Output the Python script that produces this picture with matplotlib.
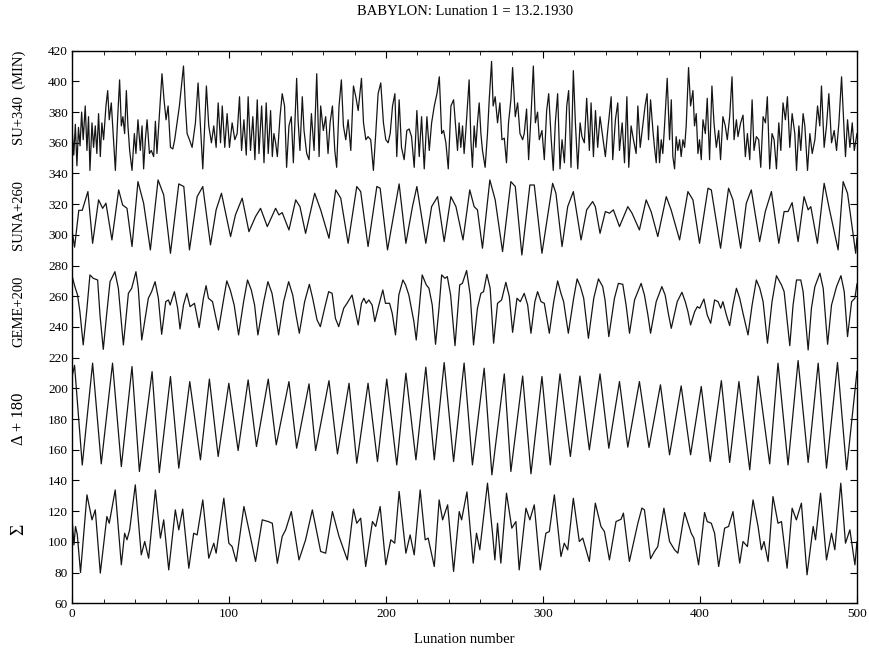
import matplotlib
matplotlib.use("Agg")
import matplotlib.pyplot as plt
from matplotlib.ticker import MultipleLocator
import matplotlib.transforms as mtransforms

plt.rcParams['font.family'] = ['Liberation Serif', 'DejaVu Serif']

# SU + 340 (minutes), noisy top trace
su_lun = [0, 1, 2, 3, 4, 5, 6, 7,
          8.3, 9.4, 10.4, 11.3, 12.6, 13.6, 14.7, 15.7, 16.8, 17.9, 18.9, 20, 21.5, 22.6, 23.6, 24.9, 26.4, 27.5,
          28.9, 30.2, 31.3, 32.3, 33.4, 34.5, 35.5, 36.6, 38.1, 39.6, 40.6, 41.9, 43.4, 44.5, 45.5, 46.6, 47.7,
          49.2, 50.4, 51.9, 53, 54, 55.5, 57.2, 58.5, 59.8, 61.1, 62.6, 64.1, 65.3, 66.8, 68.3, 69.6, 70.9, 72.1,
          73.2, 74.7, 76.4, 78.5, 80.2, 81.7, 83.2, 84.5, 85.5, 87, 88.7, 90.2, 91.7, 93, 94.5, 95.6, 97.2, 98.7,
          100.2, 101.9, 103.6, 105.1, 106.6, 107.9, 109.4, 110.9, 112.1, 113.6, 115.1, 116.4, 117.9, 119, 120.7,
          122.2, 123.6, 124.9,
          126.4, 127.5, 128.5, 129.6, 130.7, 132.4, 133.8, 135.3, 136.6, 138.1, 139.6, 140.9, 143, 143.9, 145.1,
          146.6, 147.7, 149.4, 150.9, 152.4, 154.1, 155.8, 157.3, 158.3, 160, 161.5, 163, 164.3, 165.8, 167.3,
          168.5, 170, 171.5, 172.8, 174.3, 175.8, 177.5, 179.2, 180.7, 182.2, 184.3, 185.6, 187.1, 188.5, 190.2,
          191.9, 193.4, 194.9, 196.6, 198.3, 199.8, 201.3, 202.6, 204.1, 205.6, 206.8, 208.3, 209.8, 211.5, 213.2,
          214.7, 216.2, 217.9, 219.6, 221.1, 222.6, 224.3, 226, 227.5, 229, 230.7, 232.4, 233.9, 235.4, 236.6,
          238.1, 239.6, 241.3, 243,
          245.5, 246.5, 247.6, 248.7, 249.7, 250.8, 251.8, 252.9, 254, 255, 256.1, 257.2, 258.2, 259.3, 260.4,
          261.4, 263.1, 264.6, 265.7, 267.2, 268.2, 269.5, 271, 272.5, 273.8, 275.3, 276.7, 278, 279.5, 280.6,
          282.3, 283.8, 285.3, 287, 288, 289.5, 290.8, 292.3, 293.8, 295.1, 296.5, 297.6, 299.3, 300.8, 302.3,
          303.6, 305.1, 306.5, 307.8, 309.3, 310.8, 312.1, 313.6, 315.1, 316.3, 317.8, 319.3, 320.6, 322.1, 323.6,
          324.8, 326.3, 327.8, 329.5, 330.6, 332.1, 333.4, 334.8, 336.3, 338, 339.7, 341.2, 343.4, 344.4, 346.1,
          347.6, 348.7, 350.4, 351.9, 353.4, 354.6, 356.1, 357.6, 359.3, 360.4, 361.9,
          365, 366.3, 367.2, 368.5, 370, 371, 372.1, 373.1, 374.2, 375.3, 376.3, 377.4, 379.1, 380.6, 381.7,
          382.7, 383.8, 384.8, 385.9, 387, 388, 389.1, 390.2, 391.2, 392.7, 394, 395.5, 396.5, 397.6, 398.7,
          399.7, 400.8, 401.9, 403.4, 404.6, 406.1, 407.6, 408.9, 410.4, 411.9, 413.1, 414.6, 416.1, 417.4,
          418.9, 420.4, 421.7, 423.2, 424.2, 425.9, 427.4, 428.9, 430.2, 431.7, 433.2, 434.4, 435.9, 437.4,
          438.7, 440.2, 441.7, 442.9, 444.4, 445.9, 447.2, 448.7, 450.2, 451.5, 452.9, 454.4, 455.7, 457.2,
          458.7, 460.4, 461.5, 463, 464.2, 465.7, 466.8, 468.5, 470, 471.5, 473.2, 474.9, 476.3, 477.4, 479.1,
          480.6, 482.1, 483.8, 485.5, 487, 488.5, 490.2, 491.9, 492.7, 494, 495.5, 497, 498.3, 500]
su_val = [368, 352, 372, 345, 370, 358, 380, 362,
          384, 355, 377, 342, 373, 357, 371, 353, 379, 351, 373, 362, 384, 394, 375, 386, 360, 342,
          375, 401, 371, 377, 366, 394, 371, 355, 342, 366, 353, 375, 355, 371, 343, 362, 375,
          353, 355, 351, 374, 353, 377, 405, 388, 375, 384, 357, 356, 362, 373, 384, 397, 410, 384,
          366, 362, 357, 373, 399, 371, 343, 373, 397, 371, 360, 371, 357, 386, 360, 384, 357, 379,
          357, 373, 362, 366, 390, 355, 375, 352, 390, 355, 377, 349, 388, 353, 384,
          347, 386, 353,
          381, 351, 366, 360, 351, 377, 392, 384, 344, 371, 377, 347, 402, 375, 355,
          390, 368, 353, 349, 379, 355, 405, 351, 384, 368, 377, 353, 373, 384, 355,
          344, 384, 401, 371, 362, 375, 355, 397, 390, 381, 402, 373, 362, 364, 362,
          342, 366, 392, 399, 373, 362, 360, 366, 384, 392, 351, 388, 357, 349, 368,
          369, 364, 344, 381, 351, 377, 343, 377, 355, 373, 384, 392, 403, 366, 368,
          360, 343, 384, 388,
          355, 373, 357, 371, 353, 368, 384, 401, 362, 344, 371, 357, 373, 386, 366,
          355, 344, 366, 388, 413, 384, 390, 373, 386, 362, 363, 347, 373, 388, 409,
          377, 386, 366, 362, 366, 382, 349, 377, 410, 373, 380, 362, 368, 349, 381,
          392, 364, 342, 373, 392, 343, 362, 347, 384, 394, 344, 407, 373, 343, 373,
          364, 360, 389, 355, 386, 351, 381, 357, 377, 364, 351, 368, 390, 349, 375,
          386, 355, 373, 347, 390, 344, 371, 362, 353, 384, 357,
          384, 392, 362, 388, 368, 357, 347, 371, 347, 362, 353, 371, 402, 362, 388,
          351, 343, 364, 355, 362, 351, 362, 357, 371, 409, 384, 394, 371, 379, 353,
          362, 349, 375, 366, 389, 349, 397, 373, 357, 368, 349, 377, 371, 362,
          377, 403, 362, 375, 364, 373, 378, 351, 366, 349, 388, 355, 364, 362,
          344, 377, 373, 390, 343, 366, 362, 343, 373, 355, 386, 375, 390, 357,
          379, 366, 342, 371, 355, 379, 371, 342, 366, 353, 362, 384, 371, 397, 357,
          371, 392, 360, 368, 355, 373, 403, 366, 351, 375, 357, 373, 355, 366]

# SUNA + 260
suna_lun = [0, 1.5, 4.2, 6.4, 10, 13, 16.8, 19.4, 21.5, 25.3, 29.6, 32.1, 34.9, 38.1, 41.9, 45.5, 49.8, 54.7,
            58.3, 62.6, 67.9, 71.1, 74.7, 79.6, 83.2, 88.1, 91.7, 95.1, 100.9, 104, 108.3, 112.6, 116.8, 120,
            124.3, 129.6, 131.7, 133.8, 138.1, 142.4, 145.1, 148.7, 154.5, 158.3, 163.6, 167.9, 171.1, 175.8,
            181.3, 183.8, 188.5, 194.1, 196.2, 200.9, 208.3, 212.6, 216.8, 219.6, 225.3, 229, 232.8, 237,
            241.3, 244.5, 249, 253.3, 256.1, 258.2, 261.4, 266.1, 269.5, 274.2, 279.5, 282.3, 286.5, 291.6,
            294.4, 299.3, 306.1, 308.2, 312.1, 315.7, 319.3, 324.2, 327.8, 331.6, 333.3, 336.3, 339.7, 342.3,
            344.8, 348.7, 354, 356.7, 361.4, 365.7, 368.9, 373.1, 378.5, 381.6, 387, 392.3, 395.5, 399.7,
            405.1, 407.2, 413.1, 418.2, 421, 425.9, 429.5, 432.7, 438, 441.6, 445.5, 450.2, 453.6, 456.1,
            458.7, 462.5, 466.3, 468.9, 470.6, 474.8, 479.1, 482.1, 488, 491.2, 494, 499.2, 500]
suna_val = [302, 292, 316, 316, 328.2, 294.5, 322.8, 317.3, 320.6, 296.7, 329.3, 319.5, 317.3, 292.4, 334.7,
            320.6, 290.2, 335.8, 326, 288, 333.2, 331.5, 290.2, 324.9, 331.5, 293.5, 316.3, 327.1, 298.9, 313,
            323.9, 302.1, 311.9, 317.3, 305.4, 317.3, 313, 314.5, 303.2, 322.8, 318.4, 301, 327.1, 316.3,
            297.8, 329.3, 323.9, 294.5, 331.5, 328.2, 292.4, 331.5, 330.4, 290.2, 333.2, 294.5, 318.4, 331.5,
            294.5, 318.4, 324.9, 295.6, 324.9, 318.4, 296.7, 329.3, 318.4, 316.3, 291.3, 335.8, 322.8, 289.1,
            334.7, 331.5, 286.9, 332.5, 332.5, 288, 333.6, 327.1, 292.4, 318.4, 328.2, 296.7, 316.3, 321.7,
            318.4, 301, 315.2, 314.1, 316.3, 305.4, 318.4, 314.1, 303.2, 322.8, 315, 298.9, 324.9, 316.3,
            296.7, 328.2, 322.8, 294.5, 330.4, 329.3, 291.3, 330.4, 322.8, 291.3, 320.6, 329.3, 295.6, 315.2,
            328.2, 294.5, 315.2, 315.2, 321, 295.6, 324.9, 316.3, 318.4, 294.5, 333.6, 318.4, 290.2, 334.7,
            327.1, 288, 298]

# GEME + 200
geme_lun = [0, 1.7, 3.4, 4.9, 7, 9.2, 11.3, 13.4, 16.2, 17.7, 19.8, 21.9, 24.1, 27.2, 29.4, 32.6, 35.8, 37.9,
            40.6, 42.1, 44.3, 48.5, 50.6, 52.8, 54.9, 57, 59.6, 61.3, 62.4, 65.1, 67.2, 68.7, 70.9, 73, 75.1,
            77.9, 80.9, 83.6, 85.3, 86.8, 89.4, 93.2, 96.4, 98.5, 100.7, 103.2, 106, 109.2, 111.7, 114.1,
            116.2, 118.3, 122, 124.7, 127.3, 129.4, 131.5, 134.7, 137.9, 140.5, 142.6, 144.7, 148.1, 151.1,
            153.2, 156, 158.1, 161.3, 163.4, 165.6, 167.7, 169.8, 173, 175.1, 178.3, 180, 182.2, 184.3, 185.8,
            187.3, 189, 191.1, 192.8, 195.4, 197.9, 199.6, 202.2, 203.9, 206, 208.1, 210.7, 212.4, 214.5,
            217.7, 219.2, 220.9, 223, 225.6, 227.3, 229.4, 231.5, 233.7, 235.4, 237.5, 239, 241.1, 243.9,
            246.9, 248.6, 251.3, 253.6, 255.7, 258.2, 260.4, 262.1, 264.2, 266.3, 268.5, 271, 273.6, 276.3,
            278.5, 280.6, 283.4, 285.5, 288, 290.2, 292.3, 294.8, 296.5, 298.7, 300.8, 304, 306.8, 309.3,
            311.4, 313.1, 316.1, 319.5, 321.7, 323.8, 325.9, 328.9, 332.3, 335.3, 338, 339.5, 341.9, 345.5,
            348, 350.8, 352.9, 355.1, 358.3, 362.5, 364.6, 366.8, 368.5, 372.1, 375.7, 377.8, 380, 381.7,
            385.5, 388.5, 390.6, 392.3, 394, 396.6, 398.3, 399.8, 402.5, 404.6, 406.8, 409.3, 411.5, 413.2,
            414.6, 416.8, 418.9, 421, 423.2, 425.3, 427.4, 430.6, 433.2, 435.9, 438.1, 440.2, 443, 445.9,
            448.7, 451.9, 453.6, 457.2, 459.3, 461.5, 464.2, 465.7, 468.9, 471, 473.2, 476.4, 478.5, 481.3,
            483.8, 487, 489.8, 491.9, 494, 496.6, 498.7, 500]
geme_val = [272.8, 266.3, 260.8, 250, 228.3, 250, 273.9, 271.7, 270.6, 247.8, 225.4, 247.8, 269.5, 276, 265.2,
            228.3, 261.9, 265.2, 276, 265.2, 231.5, 258.7, 263, 269.5, 258.7, 235.2, 256.5, 257.6, 254.3, 263,
            252.2, 238.7, 254.3, 261.9, 253.2, 255.4, 239.6, 258.7, 266.9, 258.7, 256.5, 238, 257.6, 270,
            264.1, 254.3, 234.8, 256.5, 270.6, 264.1, 254.3, 234.8, 256.5, 269.5, 261.9, 248.9, 234.8, 256.5,
            269.5, 260.8, 247.8, 235.9, 256.5, 267.8, 258.7, 244.6, 240.2, 254.3, 263, 261.9, 245.6, 240.2,
            252.2, 255.4, 260.8, 252.2, 241.3, 255.4, 258.7, 255.4, 257.6, 254.3, 243.5, 254.3, 264.1, 255.4,
            255.4, 248.9, 234.8, 260.8, 270.6, 267.4, 260.8, 243.5, 231.5, 250, 273.9, 267.4, 265.2, 254.3,
            228.7, 252.2, 273.9, 271.7, 272.8, 260.8, 227.8, 267.4, 268.4, 276.8, 260.8, 228.3, 252.2, 261.9,
            263, 274.3, 265.2, 229.4, 255.4, 257.6, 269.1, 259.8, 236.5, 258.7, 256.5, 261.9, 254.3, 235.9,
            256.5, 263, 256.5, 255.4, 235.9, 256.5, 270, 261.9, 256.5, 235.9, 258.7, 271.3, 266.3, 258.7,
            232.6, 258.7, 271.3, 266.3, 257.6, 233.7, 258.7, 268.4, 267.8, 254.3, 235.9, 257.6, 268.4, 260.8,
            247.8, 235.9, 256.5, 266.3, 260.8, 247.8, 239.1, 256.5, 262.6, 256.5, 250, 241.3, 250, 253.2,
            252.2, 258.2, 247.8, 242.4, 257.6, 256.5, 252.2, 256.5, 247.8, 240.9, 254.3, 265.2, 258.7, 248.9,
            234.8, 254.3, 270.6, 265.2, 256.5, 229.4, 256.5, 273.4, 267.4, 263, 227.8, 254.3, 270.6, 270.6,
            263, 225, 252.2, 266.3, 275, 265.2, 228.7, 254.3, 266.3, 273.4, 263, 233.7, 256.5, 258.7, 268]

# Delta + 180
delta_lun = [0, 1.5, 6.4, 13, 18.5, 25.7, 31.3, 38.1, 42.8, 50.9, 55.5, 62.6, 67.9, 74.9, 81.7, 87.4, 93, 99.8,
             105.7, 112.1, 117.4, 124.9, 130, 138.1, 143, 150.9, 155.1, 163.6, 169, 176.4, 181.3, 188.5, 194.5,
             200.4, 206.8, 212.6, 219, 225.3, 230.7, 237, 243, 249.7, 255, 262.5, 267.4, 275.3, 279.5, 287,
             292.3, 299.3, 304.6, 310.8, 317.4, 323.5, 329.5, 336.3, 341.9, 348.7, 354, 361.4, 367.5, 374.8,
             380.6, 388, 394, 400.8, 406.5, 413.6, 418.9, 424.8, 431.7, 437, 444.4, 449.7, 456.1, 462.5, 468.9,
             475.3, 480.6, 487.6, 493.4, 500]
delta_val = [208, 215, 150, 216.4, 150.8, 216.4, 149, 214.2, 145.8, 210.9, 145.1, 207.7, 148, 204.4, 153.4, 206,
             155.6, 203.3, 159.5, 205.5, 162.1, 206, 163.2, 204.4, 161, 202.9, 159.5, 205, 157.3, 203.3, 151.2,
             203.3, 152.3, 206, 150.1, 209.9, 153.4, 213.8, 153.4, 216.8, 152.3, 216.5, 150.1, 213.1, 143.6,
             209.4, 145.8, 208, 144.3, 207.7, 150.1, 209.4, 155.6, 208, 159.9, 209.4, 161, 204.4, 161.7, 204.4,
             161.5, 202.3, 156.7, 201.6, 156.7, 201.2, 152.3, 205, 151.7, 204.4, 146.9, 208, 150.8, 216.4, 150.1,
             218.1, 151.7, 216.4, 148, 216.8, 146.9, 211]

# Sigma (sum)
sigma_lun = [0, 1.1, 2.1, 3.2, 5.3, 9.4, 12.6, 14.7, 17.9, 22.1, 23.6, 27.4, 31.3, 33.4, 34.9, 36.6, 40.2, 44,
             46.2, 48.7, 53, 56.2, 58.3, 61.5, 65.7, 67.9, 70.4, 74.3, 77.4, 79.6, 83.2, 87, 90.2, 91.7, 96.6,
             99.8, 101.9, 104.5, 109.4, 112.6, 116.8, 121.1, 124.9, 127.5, 130.7, 133.8, 136, 139.6, 144.5,
             148.7, 153, 158.3, 161.5, 165.8, 170, 175.3, 179.2, 181.3, 183.8, 187, 191.3, 193.4, 196.2, 199.8,
             203, 205.5, 208.3, 212.6, 215.3, 217.9, 221.7, 224.9, 226.8, 230.7, 233.8, 236, 239.2, 243, 246.6,
             248.1, 251.5, 255.5, 257.6, 259.7, 264.6, 267.8, 269.3, 271, 273.1, 276.7, 280.1, 282.7, 284.8,
             289.1, 291.6, 294.4, 298.2, 301.8, 304, 307.2, 311.4, 313.5, 315.7, 319.3, 323.1, 325.3, 329.5,
             333.3, 336.9, 339.1, 342.3, 346.5, 349.7, 351.2, 355, 360.4, 363, 364.6, 368.5, 371, 373.1, 377,
             380.6, 383.8, 385.9, 390.2, 394.4, 396.1, 399.1, 402.9, 404.6, 407.2, 409.3, 411.9, 415.7, 418.2,
             421, 425.3, 427.4, 430.2, 433.8, 437, 439.1, 440.8, 443.4, 446.5, 449.7, 451.9, 455.5, 458.7,
             461.4, 464.6, 468.2, 472.1, 473.6, 476.8, 480.6, 483.8, 485.9, 489.7, 492.7, 495.5, 498.7, 500]
sigma_val = [114, 98, 110, 105, 80, 130.6, 114.3, 120.8, 79.6, 116.5, 112.1, 133.8, 85, 105.6, 101.3, 107.8,
             137.1, 91.5, 100.2, 89.3, 133.8, 102.4, 114.3, 81.7, 120.8, 107.8, 121.3, 82.8, 105.6, 104.5, 127.3,
             89.3, 99.1, 92.6, 128.4, 99.1, 96.9, 87.2, 123, 107.8, 87.2, 114.3, 113.2, 112.1, 86, 103.5, 107.8,
             119.7, 88.2, 101.3, 120.8, 93.7, 92.6, 119.7, 103.5, 88.2, 121.3, 112.1, 115.4, 83.9, 113.2, 110,
             123, 85, 101.3, 99.1, 132.8, 92.6, 104.5, 91.5, 133.8, 101.3, 102.4, 83.9, 127.3, 114.3, 124.1,
             80.7, 119.7, 114.3, 132.5, 86.1, 105.6, 94.8, 138.2, 105.6, 88.2, 112.1, 86.1, 131.7, 108.9, 113.2,
             81.7, 121.9, 114.3, 124.1, 81.7, 105.6, 106.7, 130.6, 90.4, 99.1, 94.8, 128.4, 100.2, 102.4, 87.2,
             125.2, 110, 106.7, 88.2, 113.2, 114.7, 118.7, 87.2, 112.1, 122, 120.8, 89, 93.7, 96.9, 121.9,
             100.2, 94.8, 92.6, 119.1, 105.6, 102.4, 85, 119.1, 113.2, 112.1, 105.6, 83.9, 108.9, 110, 119.7,
             86.1, 100.2, 96.9, 127.3, 110, 94.8, 100.2, 87.2, 129.5, 112.1, 113.2, 82.8, 121.9, 114.3, 125.2,
             78.5, 110, 101.3, 131.7, 88.2, 105.6, 94.8, 138.2, 99.1, 107.8, 85, 100]

series = [(su_lun, su_val), (suna_lun, suna_val), (geme_lun, geme_val),
          (delta_lun, delta_val), (sigma_lun, sigma_val)]
labels = [("SU+340  (MIN)", 389, 10.5), ("SUNA+260", 313, 10.5), ("GEME+200", 250, 10.5),
          ("\u0394 + 180", 180, 12), ("\u03a3", 108, 14)]

fig = plt.figure(figsize=(8.7, 6.5), dpi=100)
ax = fig.add_axes([0.083, 0.072, 0.902, 0.850])

for x, y in series:
    ax.plot(x, y, color="#151515", lw=0.9)

ax.set_xlim(0, 500)
ax.set_ylim(60, 420)
ax.xaxis.set_major_locator(MultipleLocator(100))
ax.xaxis.set_minor_locator(MultipleLocator(20))
ax.yaxis.set_major_locator(MultipleLocator(20))
ax.tick_params(axis="both", which="both", direction="in", top=True, right=True, labelsize=9.5)
ax.tick_params(axis="both", which="major", length=5)
ax.tick_params(axis="both", which="minor", length=3)
ax.tick_params(axis="y", pad=3)
for sp in ax.spines.values():
    sp.set_linewidth(1.0)

ax.set_title("BABYLON: Lunation 1 = 13.2.1930", fontsize=10.5, pad=26)
ax.set_xlabel("Lunation number", fontsize=10.5, labelpad=9)

trans = mtransforms.blended_transform_factory(ax.transAxes, ax.transData)
for text, yc, fs in labels:
    ax.text(-0.068, yc, text, transform=trans, rotation=90, ha="center", va="center", fontsize=fs)

fig.savefig("out.png", dpi=100)
